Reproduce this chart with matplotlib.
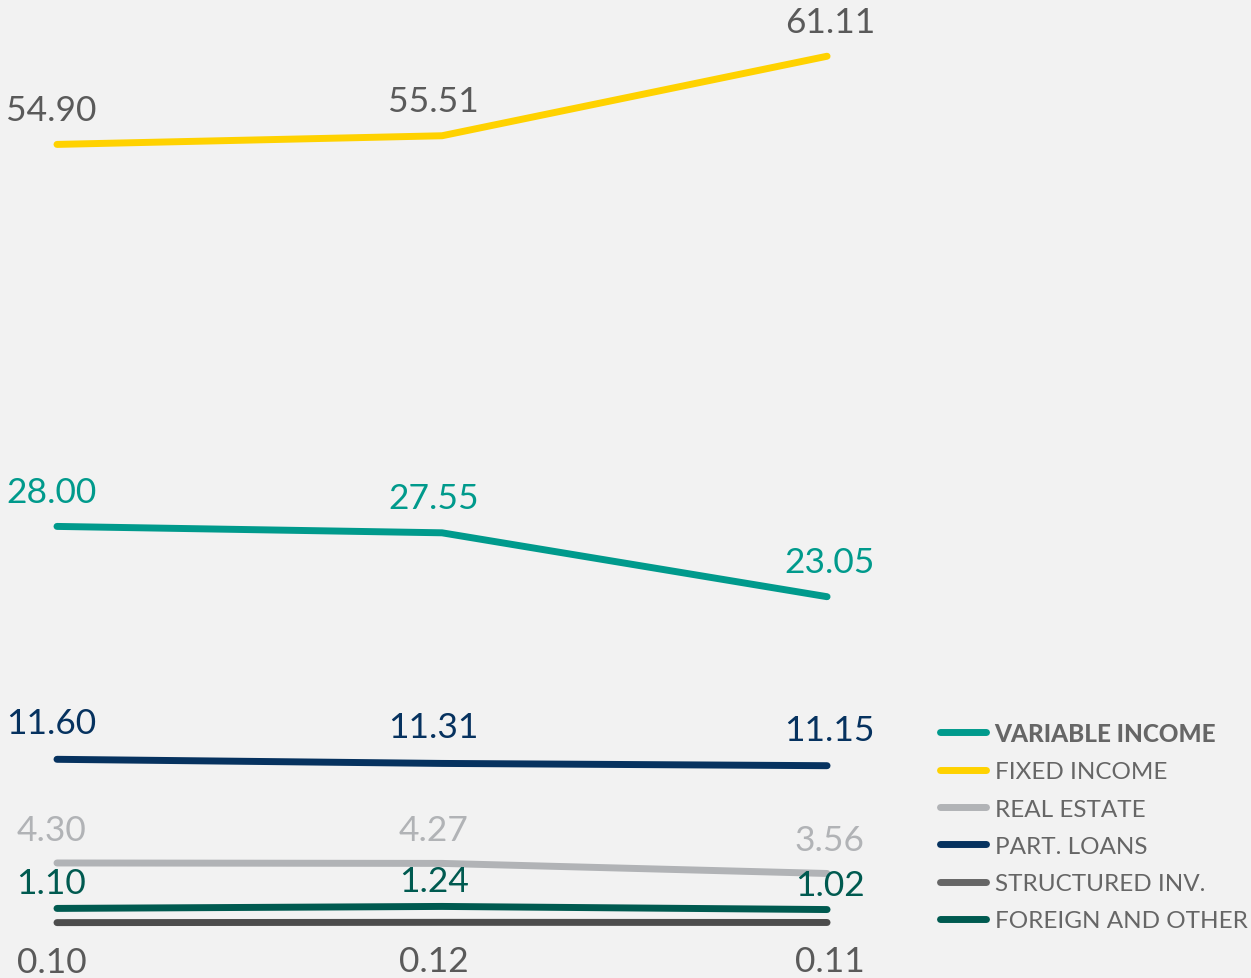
import matplotlib.pyplot as plt
from matplotlib.lines import Line2D

plt.rcParams['font.family'] = ['Lato', 'DejaVu Sans']

periods = [0, 1, 2]
series_names = ["VARIABLE INCOME", "FIXED INCOME", "REAL ESTATE",
                "PART. LOANS", "STRUCTURED INV.", "FOREIGN AND OTHER"]
variable_income = [28.00, 27.55, 23.05]
fixed_income = [54.90, 55.51, 61.11]
real_estate = [4.30, 4.27, 3.56]
part_loans = [11.60, 11.31, 11.15]
structured_inv = [0.10, 0.12, 0.11]
foreign_other = [1.10, 1.24, 1.02]

line_colors = ["#009a8c", "#ffd200", "#b1b3b6", "#06325f", "#4d4d4d", "#005a50"]
legend_colors = ["#009a8c", "#ffd200", "#b1b3b6", "#06325f", "#666666", "#005a50"]
label_colors = ["#009a8c", "#5a5a5a", "#b1b3b6", "#06325f", "#5a5a5a", "#005a50"]
label_dy = [25, 25, 24, 26, -28, 18]   # points; structured inv. sits below its line

all_series = [variable_income, fixed_income, real_estate,
              part_loans, structured_inv, foreign_other]

fig = plt.figure(figsize=(12.51, 9.79), dpi=100, facecolor="#f2f2f2")
ax = fig.add_axes([0, 0, 1, 1])
ax.set_facecolor("#f2f2f2")

for vals, col in zip(all_series, line_colors):
    ax.plot(periods, vals, color=col, lw=5, solid_capstyle="round",
            solid_joinstyle="round")

x_shift = [-4, -6, 2]
for vals, col, dy in zip(all_series, label_colors, label_dy):
    for k, v in enumerate(vals):
        ax.annotate(f"{v:.2f}", (periods[k], v), xytext=(x_shift[k], dy),
                    textcoords="offset points", ha="center", va="center",
                    fontsize=25.5, color=col)

ax.set_xlim(-0.148, 3.101)
ax.set_ylim(-3.80, 65.14)
ax.axis("off")

handles = [Line2D([0], [0], color=c, lw=5, solid_capstyle="round") for c in legend_colors]
leg = ax.legend(handles, series_names, loc="upper left",
                bbox_to_anchor=(940 / 1251, 1 - 723 / 979), frameon=False,
                fontsize=17.5, handlelength=1.9, handletextpad=0.35,
                labelspacing=0.67, borderaxespad=0, borderpad=0)
for i, t in enumerate(leg.get_texts()):
    t.set_color("#666666")
    if i == 0:
        t.set_fontweight("black")

fig.savefig("out.png", dpi=100, facecolor=fig.get_facecolor())
